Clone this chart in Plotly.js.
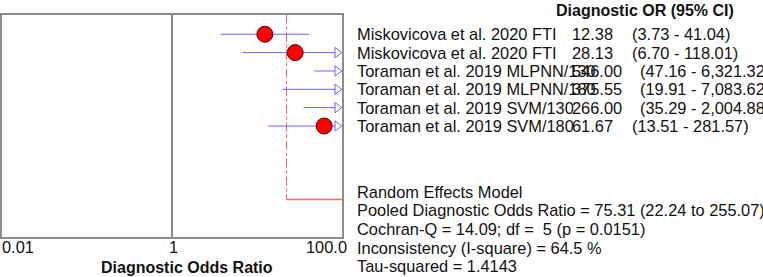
<!DOCTYPE html>
<html>
<head>
<meta charset="utf-8">
<script src="https://cdn.plot.ly/plotly-3.0.1.min.js"></script>
<style>html,body{margin:0;padding:0;background:#fff;}#chart{width:763px;height:277px;}</style>
</head>
<body>
<div id="chart"></div>
<script>
// ---- data ----
const studies = [
  "Miskovicova et al. 2020 FTI",
  "Miskovicova et al. 2020 FTI",
  "Toraman et al. 2019 MLPNN/130",
  "Toraman et al. 2019 MLPNN/180",
  "Toraman et al. 2019 SVM/130",
  "Toraman et al. 2019 SVM/180"
];
const dor    = [12.38, 28.13, 546.00, 375.55, 266.00, 61.67];
const ciLow  = [3.73, 6.70, 47.16, 19.91, 35.29, 13.51];
const ciHigh = [41.04, 118.01, 6321.32, 7083.62, 2004.88, 281.57];
const pooledDOR = 75.31;
const pooledLow = 22.24;
const pooledHigh = 255.07;
const tickVals = [0.01, 1, 100];
const tickText = ["0.01", "1", "100.0"];
const columnTitle = "Diagnostic OR (95% CI)";
const axisTitle = "Diagnostic Odds Ratio";
const statsLines = [
  "Random Effects Model",
  "Pooled Diagnostic Odds Ratio = " + pooledDOR.toFixed(2) + " (" + pooledLow.toFixed(2) + " to " + pooledHigh.toFixed(2) + ")",
  "Cochran-Q = 14.09; df = \u00a05 (p = 0.0151)",
  "Inconsistency (I-square) = 64.5 %",
  "Tau-squared = 1.4143"
];

// ---- layout geometry ----
const W = 763, H = 277;
const M = {l: 2, r: 421, t: 15, b: 40};
const plotW = W - M.l - M.r, plotH = H - M.t - M.b;
const logMin = -2, logMax = 2;
const pxPerDec = plotW / (logMax - logMin);
const yTop = -0.05, yBot = 12.05, pooledRow = 10;
const px2x = p => (p - M.l) / plotW;
const px2y = p => (H - M.b - p) / plotH;

const fmt = v => v.toLocaleString('en-US', {minimumFractionDigits: 2, maximumFractionDigits: 2});
const rows = studies.map((s, i) => i + 1);
const xMax = Math.pow(10, logMax);
const arrowCenter = Math.pow(10, logMax - 4.75 / pxPerDec);
const arrowBase = Math.pow(10, logMax - 7 / pxPerDec);

// CI lines
const ciX = [], ciY = [];
rows.forEach((r, i) => {
  ciX.push(ciLow[i], ciHigh[i] > xMax ? arrowBase : ciHigh[i], null);
  ciY.push(r, r, null);
});
const arrowRows = rows.filter((r, i) => ciHigh[i] > xMax);

const traces = [
  {x: [1, 1], y: [yTop - 1, yBot + 1], mode: 'lines', line: {color: '#8c8c8c', width: 2}, hoverinfo: 'skip'},
  {x: [pooledLow, pooledLow], y: [yTop - 1, pooledRow], mode: 'lines', line: {color: '#ff5a5a', width: 1, dash: 'dashdot'}, hoverinfo: 'skip'},
  {x: [pooledLow, pooledHigh], y: [pooledRow, pooledRow], mode: 'lines', line: {color: '#ff6a6a', width: 1.5}, hoverinfo: 'skip'},
  {x: ciX, y: ciY, mode: 'lines', line: {color: '#6464ff', width: 1}, connectgaps: false, hoverinfo: 'skip'},
  {x: arrowRows.map(() => arrowCenter), y: arrowRows, mode: 'markers', cliponaxis: false,
   marker: {symbol: 'triangle-right-open', size: 9, color: '#6464ff', line: {color: '#6464ff', width: 1}}, hoverinfo: 'skip'},
  {x: dor, y: rows, mode: 'markers',
   marker: {symbol: 'circle', size: 16, color: '#ff0000', line: {color: '#5a0000', width: 1}}, hoverinfo: 'skip'}
];

const font = {family: '"Liberation Sans", Arial, sans-serif', size: 16.4, color: '#111111'};
const bold = {family: '"Liberation Sans", Arial, sans-serif', size: 16, color: '#111111', weight: 'bold'};
const ann = [];
// right-hand table
rows.forEach((r, i) => {
  const orTxt = dor[i].toFixed(2);
  ann.push({xref: 'paper', yref: 'y', x: px2x(355), y: r, text: studies[i], xanchor: 'left', yanchor: 'middle', showarrow: false, font: font});
  ann.push({xref: 'paper', yref: 'y', x: px2x(570), y: r, text: orTxt, xanchor: 'left', yanchor: 'middle', showarrow: false, font: font});
  ann.push({xref: 'paper', yref: 'y', x: px2x(orTxt.length > 5 ? 638 : 630), y: r,
            text: "(" + fmt(ciLow[i]) + " - " + fmt(ciHigh[i]) + ")", xanchor: 'left', yanchor: 'middle', showarrow: false, font: font});
});
ann.push({xref: 'paper', yref: 'paper', x: px2x(554), y: px2y(10), text: '<b>' + columnTitle + '</b>', xanchor: 'left', yanchor: 'middle', showarrow: false, font: bold});
const statsY = [191.7, 210, 228.7, 247.5, 266.3];
statsLines.forEach((t, k) => {
  ann.push({xref: 'paper', yref: 'paper', x: px2x(355), y: px2y(statsY[k]), text: t, xanchor: 'left', yanchor: 'middle', showarrow: false, font: font});
});
// tick labels
ann.push({xref: 'x', yref: 'paper', x: Math.log10(tickVals[0]), y: px2y(247), text: tickText[0], xanchor: 'left', xshift: -2, yanchor: 'middle', showarrow: false, font: font});
ann.push({xref: 'x', yref: 'paper', x: Math.log10(tickVals[1]), y: px2y(247), text: tickText[1], xanchor: 'center', xshift: 1, yanchor: 'middle', showarrow: false, font: font});
ann.push({xref: 'x', yref: 'paper', x: Math.log10(tickVals[2]), y: px2y(247), text: tickText[2], xanchor: 'right', xshift: 7, yanchor: 'middle', showarrow: false, font: font});
// axis title
ann.push({xref: 'paper', yref: 'paper', x: px2x(187), y: px2y(267), text: '<b>' + axisTitle + '</b>', xanchor: 'center', yanchor: 'middle', showarrow: false, font: bold});

const layout = {
  width: W, height: H, margin: M,
  paper_bgcolor: '#ffffff', plot_bgcolor: '#ffffff',
  showlegend: false,
  xaxis: {type: 'log', range: [logMin, logMax], tickvals: tickVals, ticktext: tickText, showticklabels: false,
          ticks: '', showgrid: false, zeroline: false, showline: true, mirror: true, linecolor: '#8c8c8c', linewidth: 2, fixedrange: true},
  yaxis: {range: [yBot, yTop], showticklabels: false, ticks: '', showgrid: false, zeroline: false,
          showline: true, mirror: true, linecolor: '#8c8c8c', linewidth: 2, fixedrange: true},
  annotations: ann,
  font: font
};

Plotly.newPlot('chart', traces, layout, {staticPlot: true, displayModeBar: false});
</script>
</body>
</html>
